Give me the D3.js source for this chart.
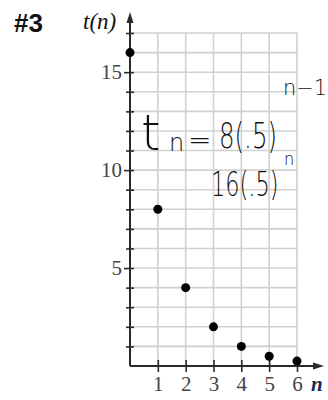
<!DOCTYPE html>
<html>
<head>
<meta charset="utf-8">
<script src="https://cdn.jsdelivr.net/npm/d3@7"></script>
<style>
  html, body { margin: 0; padding: 0; background: #fff; }
  svg { display: block; }
</style>
</head>
<body>
<svg id="chart" width="328" height="400"></svg>
<script>
// Geometric sequence t(n) = 16(0.5)^n
const nValues = [0, 1, 2, 3, 4, 5, 6];
const tValues = [16, 8, 4, 2, 1, 0.5, 0.25];
const xTickValues = [1, 2, 3, 4, 5, 6];
const yLabelValues = [5, 10, 15];
const yGridValues = d3.range(1, 18);

const svg = d3.select("#chart");

const x = d3.scaleLinear().domain([0, 6]).range([130, 297]);
const y = d3.scaleLinear().domain([0, 17]).range([366, 33]);

const gridColor = "#d0d0d0";
const axisColor = "#2a2a2a";
const serif = "Liberation Serif, Times New Roman, serif";

// grid
const grid = svg.append("g");
grid.selectAll("line.h").data(yGridValues).join("line")
  .attr("x1", x(0)).attr("x2", x(6))
  .attr("y1", d => y(d)).attr("y2", d => y(d))
  .attr("stroke", gridColor).attr("stroke-width", 1.6);
grid.selectAll("line.v").data(xTickValues).join("line")
  .attr("x1", d => x(d)).attr("x2", d => x(d))
  .attr("y1", y(17)).attr("y2", y(0))
  .attr("stroke", gridColor).attr("stroke-width", 1.6);

// y axis with minor and labelled ticks
const yAxis = d3.axisLeft(y).tickValues(yGridValues).tickSize(4)
  .tickFormat(d => yLabelValues.includes(d) ? d : "");
const gy = svg.append("g").attr("transform", `translate(${x(0)},0)`).call(yAxis)
  .attr("font-family", serif).attr("font-size", 21);
gy.select(".domain").remove();
gy.selectAll(".tick line").attr("x2", d => yLabelValues.includes(d) ? -6 : -4).attr("x1", 4)
  .attr("stroke", axisColor).attr("stroke-width", 1.6);
gy.selectAll(".tick text")
  .attr("x", -8)
  .style("font-family", serif).style("font-size", "21px")
  .attr("fill", "#444");

// x axis
const xAxis = d3.axisBottom(x).tickValues(xTickValues).tickSize(6).tickFormat(d3.format("d"));
const gx = svg.append("g").attr("transform", `translate(0,${y(0)})`).call(xAxis)
  .attr("font-family", serif).attr("font-size", 21);
gx.select(".domain").remove();
gx.selectAll(".tick line").attr("y1", -6).attr("y2", 6)
  .attr("stroke", axisColor).attr("stroke-width", 1.6);
gx.selectAll(".tick text")
  .attr("y", 10).attr("dy", "0.71em")
  .style("font-family", serif).style("font-size", "21px")
  .attr("fill", "#444");

// axis lines with arrowheads
svg.append("line").attr("x1", x(0)).attr("x2", x(0)).attr("y1", y(0)).attr("y2", 18)
  .attr("stroke", axisColor).attr("stroke-width", 2);
svg.append("path")
  .attr("d", `M${x(0)},12 L${x(0) - 3.5},23 L${x(0) + 3.5},23 Z`)
  .attr("fill", axisColor);
svg.append("line").attr("x1", x(0)).attr("x2", 318).attr("y1", y(0)).attr("y2", y(0))
  .attr("stroke", axisColor).attr("stroke-width", 2);
svg.append("path")
  .attr("d", `M324,${y(0)} L313,${y(0) - 3.5} L313,${y(0) + 3.5} Z`)
  .attr("fill", axisColor);

// data points
svg.append("g").selectAll("circle").data(nValues).join("circle")
  .attr("cx", (d) => x(d))
  .attr("cy", (d, i) => y(tValues[i]))
  .attr("r", 4.5)
  .attr("fill", "#000");

// titles
svg.append("text").attr("x", 14).attr("y", 32)
  .attr("font-family", "Liberation Sans, Arial, sans-serif").attr("font-weight", "bold")
  .attr("font-size", 26).attr("fill", "#111").text("#3");
svg.append("text").attr("x", 83).attr("y", 29)
  .attr("font-family", serif).attr("font-style", "italic")
  .attr("font-size", 23).attr("fill", "#111").text("t(n)");
svg.append("text").attr("x", 311).attr("y", 391)
  .attr("font-family", serif).attr("font-style", "italic").attr("font-weight", "bold")
  .attr("font-size", 21).attr("fill", "#1a2a55").text("n");

// handwritten formulas, squeezed horizontally to a narrow hand
const hand = svg.append("g")
  .attr("font-family", "DejaVu Sans, sans-serif").attr("font-weight", 200);
const handText = (tx, ty, size, str, sx = 1) =>
  hand.append("text")
    .attr("transform", `translate(${tx},${ty}) scale(${sx},1)`)
    .attr("font-size", size).attr("fill", "#111").text(str);
handText(141, 150, 50, "t");
handText(169, 151, 24, "n");
handText(188, 149, 28, "=");
handText(219, 148, 36, "8(.5)", 0.68);
handText(283, 95, 22, "n−1", 0.95);
handText(211, 196, 34, "16(.5)", 0.66);
handText(284, 165, 18, "n", 0.9);
</script>
</body>
</html>
